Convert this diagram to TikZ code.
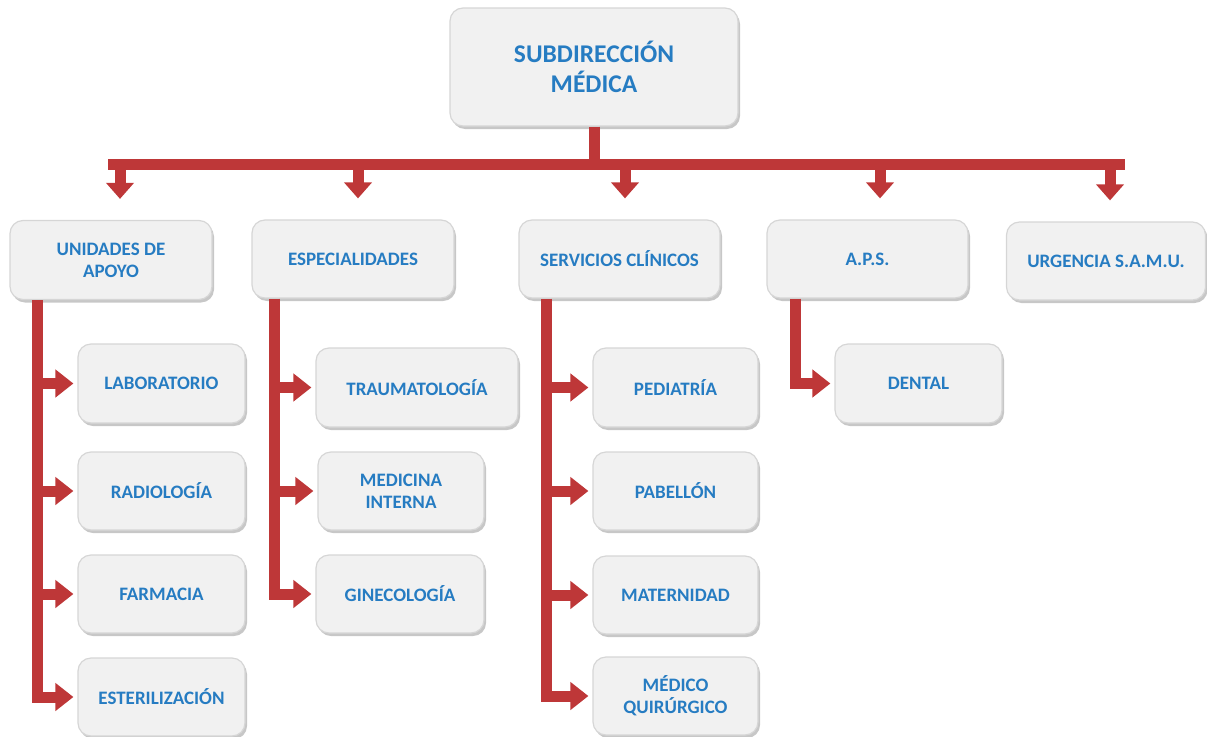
\documentclass[tikz,border=0pt]{standalone}
\usepackage{fontspec}
\setmainfont{Carlito}
\usetikzlibrary{arrows.meta,shadows,calc}
\definecolor{barred}{RGB}{190,55,56}
\definecolor{txtblue}{RGB}{38,124,194}
\definecolor{boxfill}{RGB}{241,241,241}
\definecolor{boxline}{RGB}{214,214,214}
\tikzset{
  box/.style={draw=boxline, line width=1.2pt, fill=boxfill, rounded corners=13pt,
    align=center, text=txtblue, font=\fontsize{19}{22}\selectfont\bfseries,
    inner sep=0pt, drop shadow={shadow xshift=2pt, shadow yshift=-3pt, fill=black, opacity=0.22}},
  bar/.style={draw=barred, line width=11pt, line join=miter},
  arr/.style={bar, -{Triangle[width=27pt,length=18pt]}, shorten >=4pt},
  dn/.style={bar, -{Triangle[width=27pt,length=16pt]}},
}
\begin{document}
\begin{tikzpicture}[x=1pt,y=-1pt]
\useasboundingbox (0,0) rectangle (1207,736);
% top
\node[box, minimum width=288pt, minimum height=118pt, font=\fontsize{25.5}{30}\selectfont\bfseries] (top) at (594,67) {SUBDIRECCIÓN\\MÉDICA};
% level 1
\node[box, minimum width=202pt, minimum height=79pt] (unid) at (111,260) {UNIDADES DE\\APOYO};
\node[box, minimum width=202pt, minimum height=78pt] (esp) at (353,259) {ESPECIALIDADES};
\node[box, minimum width=201pt, minimum height=78pt] (serv) at (619.5,259) {SERVICIOS CLÍNICOS};
\node[box, minimum width=201pt, minimum height=78pt] (aps) at (867.5,259) {A.P.S.};
\node[box, minimum width=199pt, minimum height=78pt] (urg) at (1106,261) {URGENCIA S.A.M.U.};
% children
\node[box, minimum width=167pt, minimum height=79pt] (lab) at (161.5,383.5) {LABORATORIO};
\node[box, minimum width=167pt, minimum height=78pt] (rad) at (161.5,491) {RADIOLOGÍA};
\node[box, minimum width=167pt, minimum height=78pt] (far) at (161.5,594) {FARMACIA};
\node[box, minimum width=167pt, minimum height=78pt] (est) at (161.5,697) {ESTERILIZACIÓN};
\node[box, minimum width=202pt, minimum height=79pt] (trau) at (417,387.5) {TRAUMATOLOGÍA};
\node[box, minimum width=166pt, minimum height=78pt] (med) at (401,491) {MEDICINA\\INTERNA};
\node[box, minimum width=168pt, minimum height=78pt] (gin) at (400,594) {GINECOLOGÍA};
\node[box, minimum width=165pt, minimum height=79pt] (ped) at (675.5,387.5) {PEDIATRÍA};
\node[box, minimum width=165pt, minimum height=78pt] (pab) at (675.5,491) {PABELLÓN};
\node[box, minimum width=165pt, minimum height=78pt] (mat) at (675.5,595) {MATERNIDAD};
\node[box, minimum width=165pt, minimum height=78pt] (mq) at (675.5,696) {MÉDICO\\QUIRÚRGICO};
\node[box, minimum width=167pt, minimum height=79pt] (dent) at (918.5,383.5) {DENTAL};
% main branch
\coordinate (hbL) at (108,164);
\coordinate (hbR) at (1125,164);
\draw[bar] (top.south) -- (top.south |- hbL);
\draw[bar] (hbL) -- (hbR);
\foreach \n/\dx in {unid/9, esp/5, serv/5.5, aps/12.5, urg/4}{
  \draw[dn] ([xshift=\dx pt]\n.north |- hbL) -- ([xshift=\dx pt, yshift=21pt]\n.north);
}
% unidades de apoyo
\coordinate (ux) at (37,300);
\draw[arr] (ux |- unid.south) |- (est.west);
\foreach \c in {lab,rad,far}{ \draw[arr] (ux |- \c.west) -- (\c.west); }
% especialidades
\coordinate (ex) at (274,300);
\draw[arr] (ex |- esp.south) |- (gin.west);
\foreach \c in {trau,med}{ \draw[arr] (ex |- \c.west) -- (\c.west); }
% servicios clinicos
\coordinate (sx) at (546,300);
\draw[arr] (sx |- serv.south) |- (mq.west);
\foreach \c in {ped,pab,mat}{ \draw[arr] (sx |- \c.west) -- (\c.west); }
% aps
\coordinate (ax) at (795,300);
\draw[arr] (ax |- aps.south) |- (dent.west);
\end{tikzpicture}
\end{document}
